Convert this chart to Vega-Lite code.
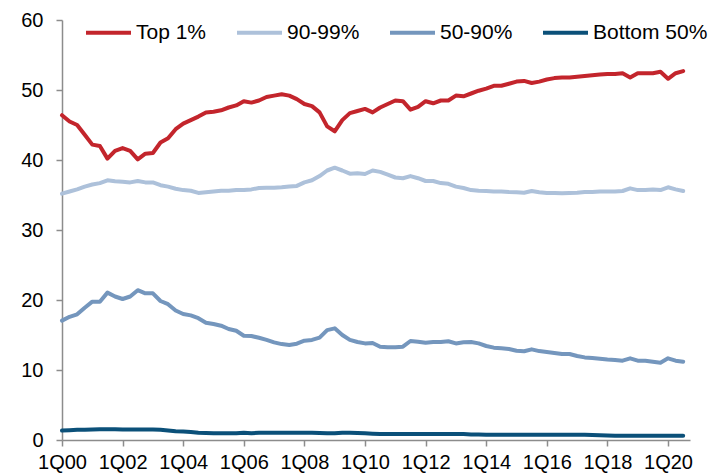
{
  "$schema": "https://vega.github.io/schema/vega-lite/v6.json",
  "width": 628,
  "height": 420,
  "autosize": {"type": "none"},
  "padding": {"left": 62, "top": 20, "right": 29, "bottom": 36},
  "background": "white",
  "config": {"view": {"stroke": null}, "font": "Liberation Sans"},
  "data": {"values": [
{"t":0,"s":"Top 1%","v":46.4},{"t":1,"s":"Top 1%","v":45.5},{"t":2,"s":"Top 1%","v":45.0},{"t":3,"s":"Top 1%","v":43.6},{"t":4,"s":"Top 1%","v":42.2},{"t":5,"s":"Top 1%","v":42.0},{"t":6,"s":"Top 1%","v":40.2},{"t":7,"s":"Top 1%","v":41.3},{"t":8,"s":"Top 1%","v":41.7},{"t":9,"s":"Top 1%","v":41.3},{"t":10,"s":"Top 1%","v":40.1},{"t":11,"s":"Top 1%","v":40.9},{"t":12,"s":"Top 1%","v":41.0},{"t":13,"s":"Top 1%","v":42.5},{"t":14,"s":"Top 1%","v":43.1},{"t":15,"s":"Top 1%","v":44.4},{"t":16,"s":"Top 1%","v":45.2},{"t":17,"s":"Top 1%","v":45.7},{"t":18,"s":"Top 1%","v":46.2},{"t":19,"s":"Top 1%","v":46.8},{"t":20,"s":"Top 1%","v":46.9},{"t":21,"s":"Top 1%","v":47.1},{"t":22,"s":"Top 1%","v":47.5},{"t":23,"s":"Top 1%","v":47.8},{"t":24,"s":"Top 1%","v":48.4},{"t":25,"s":"Top 1%","v":48.2},{"t":26,"s":"Top 1%","v":48.5},{"t":27,"s":"Top 1%","v":49.0},{"t":28,"s":"Top 1%","v":49.2},{"t":29,"s":"Top 1%","v":49.4},{"t":30,"s":"Top 1%","v":49.2},{"t":31,"s":"Top 1%","v":48.7},{"t":32,"s":"Top 1%","v":48.0},{"t":33,"s":"Top 1%","v":47.7},{"t":34,"s":"Top 1%","v":46.8},{"t":35,"s":"Top 1%","v":44.8},{"t":36,"s":"Top 1%","v":44.1},{"t":37,"s":"Top 1%","v":45.7},{"t":38,"s":"Top 1%","v":46.7},{"t":39,"s":"Top 1%","v":47.0},{"t":40,"s":"Top 1%","v":47.3},{"t":41,"s":"Top 1%","v":46.8},{"t":42,"s":"Top 1%","v":47.5},{"t":43,"s":"Top 1%","v":48.0},{"t":44,"s":"Top 1%","v":48.5},{"t":45,"s":"Top 1%","v":48.4},{"t":46,"s":"Top 1%","v":47.2},{"t":47,"s":"Top 1%","v":47.6},{"t":48,"s":"Top 1%","v":48.4},{"t":49,"s":"Top 1%","v":48.1},{"t":50,"s":"Top 1%","v":48.5},{"t":51,"s":"Top 1%","v":48.5},{"t":52,"s":"Top 1%","v":49.2},{"t":53,"s":"Top 1%","v":49.1},{"t":54,"s":"Top 1%","v":49.5},{"t":55,"s":"Top 1%","v":49.9},{"t":56,"s":"Top 1%","v":50.2},{"t":57,"s":"Top 1%","v":50.6},{"t":58,"s":"Top 1%","v":50.6},{"t":59,"s":"Top 1%","v":50.9},{"t":60,"s":"Top 1%","v":51.2},{"t":61,"s":"Top 1%","v":51.3},{"t":62,"s":"Top 1%","v":51.0},{"t":63,"s":"Top 1%","v":51.2},{"t":64,"s":"Top 1%","v":51.5},{"t":65,"s":"Top 1%","v":51.7},{"t":66,"s":"Top 1%","v":51.8},{"t":67,"s":"Top 1%","v":51.8},{"t":68,"s":"Top 1%","v":51.9},{"t":69,"s":"Top 1%","v":52.0},{"t":70,"s":"Top 1%","v":52.1},{"t":71,"s":"Top 1%","v":52.2},{"t":72,"s":"Top 1%","v":52.3},{"t":73,"s":"Top 1%","v":52.3},{"t":74,"s":"Top 1%","v":52.4},{"t":75,"s":"Top 1%","v":51.8},{"t":76,"s":"Top 1%","v":52.4},{"t":77,"s":"Top 1%","v":52.4},{"t":78,"s":"Top 1%","v":52.4},{"t":79,"s":"Top 1%","v":52.6},{"t":80,"s":"Top 1%","v":51.6},{"t":81,"s":"Top 1%","v":52.4},{"t":82,"s":"Top 1%","v":52.7},
{"t":0,"s":"90-99%","v":35.2},{"t":1,"s":"90-99%","v":35.5},{"t":2,"s":"90-99%","v":35.8},{"t":3,"s":"90-99%","v":36.2},{"t":4,"s":"90-99%","v":36.5},{"t":5,"s":"90-99%","v":36.7},{"t":6,"s":"90-99%","v":37.1},{"t":7,"s":"90-99%","v":36.95},{"t":8,"s":"90-99%","v":36.9},{"t":9,"s":"90-99%","v":36.8},{"t":10,"s":"90-99%","v":37.0},{"t":11,"s":"90-99%","v":36.8},{"t":12,"s":"90-99%","v":36.8},{"t":13,"s":"90-99%","v":36.4},{"t":14,"s":"90-99%","v":36.2},{"t":15,"s":"90-99%","v":35.9},{"t":16,"s":"90-99%","v":35.7},{"t":17,"s":"90-99%","v":35.6},{"t":18,"s":"90-99%","v":35.3},{"t":19,"s":"90-99%","v":35.4},{"t":20,"s":"90-99%","v":35.5},{"t":21,"s":"90-99%","v":35.6},{"t":22,"s":"90-99%","v":35.6},{"t":23,"s":"90-99%","v":35.7},{"t":24,"s":"90-99%","v":35.7},{"t":25,"s":"90-99%","v":35.8},{"t":26,"s":"90-99%","v":36.0},{"t":27,"s":"90-99%","v":36.05},{"t":28,"s":"90-99%","v":36.05},{"t":29,"s":"90-99%","v":36.1},{"t":30,"s":"90-99%","v":36.2},{"t":31,"s":"90-99%","v":36.3},{"t":32,"s":"90-99%","v":36.8},{"t":33,"s":"90-99%","v":37.1},{"t":34,"s":"90-99%","v":37.7},{"t":35,"s":"90-99%","v":38.5},{"t":36,"s":"90-99%","v":38.9},{"t":37,"s":"90-99%","v":38.5},{"t":38,"s":"90-99%","v":38.05},{"t":39,"s":"90-99%","v":38.1},{"t":40,"s":"90-99%","v":38.0},{"t":41,"s":"90-99%","v":38.5},{"t":42,"s":"90-99%","v":38.3},{"t":43,"s":"90-99%","v":37.9},{"t":44,"s":"90-99%","v":37.5},{"t":45,"s":"90-99%","v":37.4},{"t":46,"s":"90-99%","v":37.7},{"t":47,"s":"90-99%","v":37.4},{"t":48,"s":"90-99%","v":37.0},{"t":49,"s":"90-99%","v":37.0},{"t":50,"s":"90-99%","v":36.7},{"t":51,"s":"90-99%","v":36.6},{"t":52,"s":"90-99%","v":36.2},{"t":53,"s":"90-99%","v":36.0},{"t":54,"s":"90-99%","v":35.7},{"t":55,"s":"90-99%","v":35.6},{"t":56,"s":"90-99%","v":35.57},{"t":57,"s":"90-99%","v":35.5},{"t":58,"s":"90-99%","v":35.5},{"t":59,"s":"90-99%","v":35.43},{"t":60,"s":"90-99%","v":35.4},{"t":61,"s":"90-99%","v":35.33},{"t":62,"s":"90-99%","v":35.57},{"t":63,"s":"90-99%","v":35.4},{"t":64,"s":"90-99%","v":35.3},{"t":65,"s":"90-99%","v":35.3},{"t":66,"s":"90-99%","v":35.24},{"t":67,"s":"90-99%","v":35.3},{"t":68,"s":"90-99%","v":35.33},{"t":69,"s":"90-99%","v":35.43},{"t":70,"s":"90-99%","v":35.43},{"t":71,"s":"90-99%","v":35.5},{"t":72,"s":"90-99%","v":35.5},{"t":73,"s":"90-99%","v":35.5},{"t":74,"s":"90-99%","v":35.57},{"t":75,"s":"90-99%","v":35.95},{"t":76,"s":"90-99%","v":35.7},{"t":77,"s":"90-99%","v":35.7},{"t":78,"s":"90-99%","v":35.8},{"t":79,"s":"90-99%","v":35.7},{"t":80,"s":"90-99%","v":36.1},{"t":81,"s":"90-99%","v":35.8},{"t":82,"s":"90-99%","v":35.57},
{"t":0,"s":"50-90%","v":17.05},{"t":1,"s":"50-90%","v":17.6},{"t":2,"s":"50-90%","v":17.95},{"t":3,"s":"50-90%","v":18.9},{"t":4,"s":"50-90%","v":19.76},{"t":5,"s":"50-90%","v":19.76},{"t":6,"s":"50-90%","v":21.05},{"t":7,"s":"50-90%","v":20.5},{"t":8,"s":"50-90%","v":20.14},{"t":9,"s":"50-90%","v":20.5},{"t":10,"s":"50-90%","v":21.4},{"t":11,"s":"50-90%","v":20.95},{"t":12,"s":"50-90%","v":20.95},{"t":13,"s":"50-90%","v":19.86},{"t":14,"s":"50-90%","v":19.4},{"t":15,"s":"50-90%","v":18.5},{"t":16,"s":"50-90%","v":18.0},{"t":17,"s":"50-90%","v":17.8},{"t":18,"s":"50-90%","v":17.4},{"t":19,"s":"50-90%","v":16.76},{"t":20,"s":"50-90%","v":16.57},{"t":21,"s":"50-90%","v":16.33},{"t":22,"s":"50-90%","v":15.86},{"t":23,"s":"50-90%","v":15.6},{"t":24,"s":"50-90%","v":14.9},{"t":25,"s":"50-90%","v":14.86},{"t":26,"s":"50-90%","v":14.6},{"t":27,"s":"50-90%","v":14.3},{"t":28,"s":"50-90%","v":13.95},{"t":29,"s":"50-90%","v":13.7},{"t":30,"s":"50-90%","v":13.57},{"t":31,"s":"50-90%","v":13.76},{"t":32,"s":"50-90%","v":14.19},{"t":33,"s":"50-90%","v":14.3},{"t":34,"s":"50-90%","v":14.62},{"t":35,"s":"50-90%","v":15.7},{"t":36,"s":"50-90%","v":15.95},{"t":37,"s":"50-90%","v":15.0},{"t":38,"s":"50-90%","v":14.3},{"t":39,"s":"50-90%","v":14.0},{"t":40,"s":"50-90%","v":13.8},{"t":41,"s":"50-90%","v":13.86},{"t":42,"s":"50-90%","v":13.33},{"t":43,"s":"50-90%","v":13.24},{"t":44,"s":"50-90%","v":13.24},{"t":45,"s":"50-90%","v":13.33},{"t":46,"s":"50-90%","v":14.14},{"t":47,"s":"50-90%","v":14.05},{"t":48,"s":"50-90%","v":13.9},{"t":49,"s":"50-90%","v":14.0},{"t":50,"s":"50-90%","v":14.0},{"t":51,"s":"50-90%","v":14.1},{"t":52,"s":"50-90%","v":13.8},{"t":53,"s":"50-90%","v":13.95},{"t":54,"s":"50-90%","v":14.0},{"t":55,"s":"50-90%","v":13.8},{"t":56,"s":"50-90%","v":13.43},{"t":57,"s":"50-90%","v":13.19},{"t":58,"s":"50-90%","v":13.1},{"t":59,"s":"50-90%","v":13.0},{"t":60,"s":"50-90%","v":12.76},{"t":61,"s":"50-90%","v":12.67},{"t":62,"s":"50-90%","v":12.95},{"t":63,"s":"50-90%","v":12.7},{"t":64,"s":"50-90%","v":12.57},{"t":65,"s":"50-90%","v":12.43},{"t":66,"s":"50-90%","v":12.29},{"t":67,"s":"50-90%","v":12.29},{"t":68,"s":"50-90%","v":12.0},{"t":69,"s":"50-90%","v":11.8},{"t":70,"s":"50-90%","v":11.7},{"t":71,"s":"50-90%","v":11.6},{"t":72,"s":"50-90%","v":11.5},{"t":73,"s":"50-90%","v":11.43},{"t":74,"s":"50-90%","v":11.33},{"t":75,"s":"50-90%","v":11.67},{"t":76,"s":"50-90%","v":11.33},{"t":77,"s":"50-90%","v":11.33},{"t":78,"s":"50-90%","v":11.19},{"t":79,"s":"50-90%","v":11.05},{"t":80,"s":"50-90%","v":11.67},{"t":81,"s":"50-90%","v":11.33},{"t":82,"s":"50-90%","v":11.19},
{"t":0,"s":"Bottom 50%","v":1.35},{"t":1,"s":"Bottom 50%","v":1.4},{"t":2,"s":"Bottom 50%","v":1.45},{"t":3,"s":"Bottom 50%","v":1.45},{"t":4,"s":"Bottom 50%","v":1.5},{"t":5,"s":"Bottom 50%","v":1.55},{"t":6,"s":"Bottom 50%","v":1.55},{"t":7,"s":"Bottom 50%","v":1.55},{"t":8,"s":"Bottom 50%","v":1.5},{"t":9,"s":"Bottom 50%","v":1.5},{"t":10,"s":"Bottom 50%","v":1.5},{"t":11,"s":"Bottom 50%","v":1.5},{"t":12,"s":"Bottom 50%","v":1.5},{"t":13,"s":"Bottom 50%","v":1.45},{"t":14,"s":"Bottom 50%","v":1.35},{"t":15,"s":"Bottom 50%","v":1.25},{"t":16,"s":"Bottom 50%","v":1.2},{"t":17,"s":"Bottom 50%","v":1.15},{"t":18,"s":"Bottom 50%","v":1.05},{"t":19,"s":"Bottom 50%","v":1.0},{"t":20,"s":"Bottom 50%","v":0.95},{"t":21,"s":"Bottom 50%","v":0.95},{"t":22,"s":"Bottom 50%","v":0.95},{"t":23,"s":"Bottom 50%","v":0.95},{"t":24,"s":"Bottom 50%","v":1.05},{"t":25,"s":"Bottom 50%","v":0.95},{"t":26,"s":"Bottom 50%","v":1.05},{"t":27,"s":"Bottom 50%","v":1.05},{"t":28,"s":"Bottom 50%","v":1.05},{"t":29,"s":"Bottom 50%","v":1.05},{"t":30,"s":"Bottom 50%","v":1.05},{"t":31,"s":"Bottom 50%","v":1.05},{"t":32,"s":"Bottom 50%","v":1.05},{"t":33,"s":"Bottom 50%","v":1.05},{"t":34,"s":"Bottom 50%","v":1.0},{"t":35,"s":"Bottom 50%","v":0.95},{"t":36,"s":"Bottom 50%","v":0.95},{"t":37,"s":"Bottom 50%","v":1.05},{"t":38,"s":"Bottom 50%","v":1.05},{"t":39,"s":"Bottom 50%","v":1.0},{"t":40,"s":"Bottom 50%","v":0.95},{"t":41,"s":"Bottom 50%","v":0.9},{"t":42,"s":"Bottom 50%","v":0.85},{"t":43,"s":"Bottom 50%","v":0.85},{"t":44,"s":"Bottom 50%","v":0.85},{"t":45,"s":"Bottom 50%","v":0.85},{"t":46,"s":"Bottom 50%","v":0.85},{"t":47,"s":"Bottom 50%","v":0.85},{"t":48,"s":"Bottom 50%","v":0.85},{"t":49,"s":"Bottom 50%","v":0.85},{"t":50,"s":"Bottom 50%","v":0.85},{"t":51,"s":"Bottom 50%","v":0.85},{"t":52,"s":"Bottom 50%","v":0.85},{"t":53,"s":"Bottom 50%","v":0.85},{"t":54,"s":"Bottom 50%","v":0.8},{"t":55,"s":"Bottom 50%","v":0.78},{"t":56,"s":"Bottom 50%","v":0.75},{"t":57,"s":"Bottom 50%","v":0.75},{"t":58,"s":"Bottom 50%","v":0.75},{"t":59,"s":"Bottom 50%","v":0.75},{"t":60,"s":"Bottom 50%","v":0.75},{"t":61,"s":"Bottom 50%","v":0.75},{"t":62,"s":"Bottom 50%","v":0.75},{"t":63,"s":"Bottom 50%","v":0.75},{"t":64,"s":"Bottom 50%","v":0.75},{"t":65,"s":"Bottom 50%","v":0.75},{"t":66,"s":"Bottom 50%","v":0.75},{"t":67,"s":"Bottom 50%","v":0.75},{"t":68,"s":"Bottom 50%","v":0.75},{"t":69,"s":"Bottom 50%","v":0.75},{"t":70,"s":"Bottom 50%","v":0.72},{"t":71,"s":"Bottom 50%","v":0.68},{"t":72,"s":"Bottom 50%","v":0.65},{"t":73,"s":"Bottom 50%","v":0.62},{"t":74,"s":"Bottom 50%","v":0.62},{"t":75,"s":"Bottom 50%","v":0.62},{"t":76,"s":"Bottom 50%","v":0.62},{"t":77,"s":"Bottom 50%","v":0.62},{"t":78,"s":"Bottom 50%","v":0.62},{"t":79,"s":"Bottom 50%","v":0.62},{"t":80,"s":"Bottom 50%","v":0.62},{"t":81,"s":"Bottom 50%","v":0.62},{"t":82,"s":"Bottom 50%","v":0.62}
  ]},
  "mark": {"type": "line", "strokeWidth": 4, "strokeJoin": "round", "strokeCap": "round"},
  "encoding": {
    "x": {
      "field": "t", "type": "quantitative",
      "scale": {"domain": [0, 82.9], "nice": false, "zero": false},
      "axis": {
        "title": null, "grid": false,
        "values": [0, 8, 16, 24, 32, 40, 48, 56, 64, 72, 80],
        "labelExpr": "'1Q' + (datum.value / 4 < 10 ? '0' : '') + (datum.value / 4)",
        "labelFontSize": 20, "labelColor": "#000000", "labelFont": "Liberation Sans",
        "labelPadding": 6, "labelFlush": false, "labelOverlap": false,
        "domainColor": "#8c8c8c", "domainWidth": 1.5,
        "tickColor": "#8c8c8c", "tickSize": 6, "tickWidth": 1.5
      }
    },
    "y": {
      "field": "v", "type": "quantitative",
      "scale": {"domain": [0, 60], "nice": false},
      "axis": {
        "title": null, "grid": false,
        "values": [0, 10, 20, 30, 40, 50, 60],
        "labelFontSize": 20, "labelColor": "#000000", "labelFont": "Liberation Sans",
        "labelPadding": 13,
        "domainColor": "#8c8c8c", "domainWidth": 1.5,
        "tickColor": "#8c8c8c", "tickSize": 6, "tickWidth": 1.5
      }
    },
    "color": {
      "field": "s", "type": "nominal",
      "scale": {
        "domain": ["Top 1%", "90-99%", "50-90%", "Bottom 50%"],
        "range": ["#C3252C", "#ADC1DA", "#7496BD", "#0B5079"]
      },
      "legend": {
        "title": null, "orient": "none", "direction": "horizontal",
        "legendX": 22, "legendY": -12,
        "symbolType": "stroke", "symbolSize": 2025, "symbolStrokeWidth": 4,
        "labelFontSize": 21, "labelColor": "#000000", "labelFont": "Liberation Sans",
        "labelOffset": 3, "columnPadding": 22, "padding": 0
      }
    }
  }
}
